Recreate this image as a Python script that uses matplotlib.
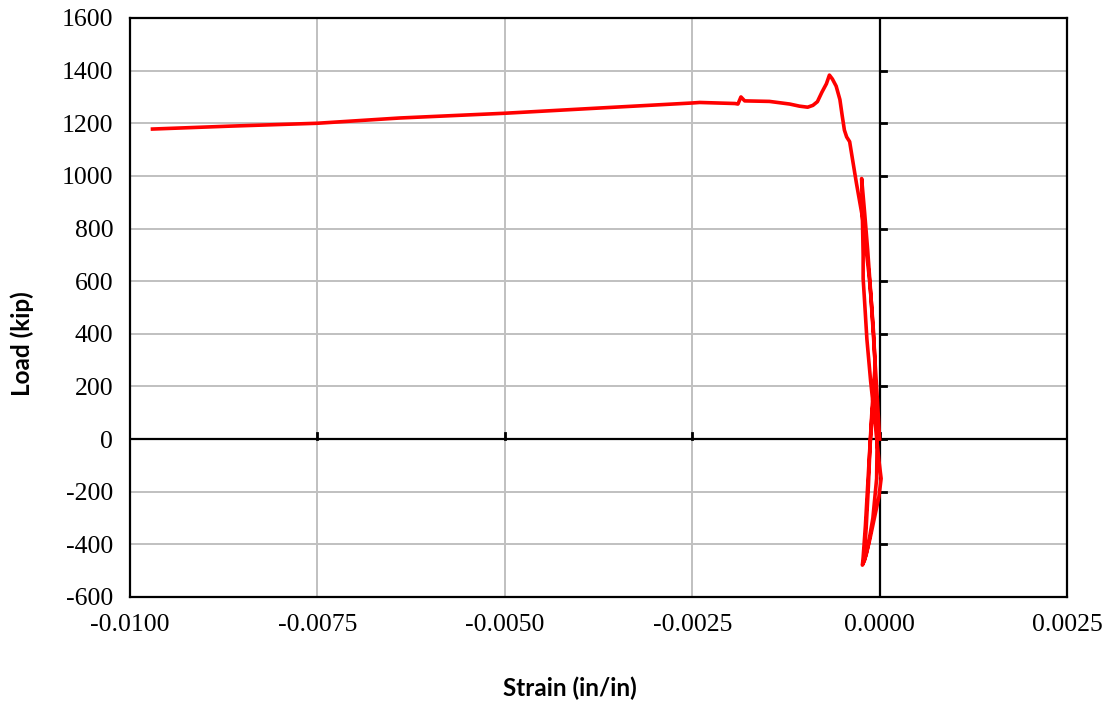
import numpy as np
import matplotlib.pyplot as plt

# Load-strain record (cyclic part near zero, then loading to peak, then post-peak)
strain = [
    0.0, -0.00003, -0.00008, -0.00012, -0.00016, -0.00020, -0.00024,
    -0.00022, -0.00022, -0.00020, -0.00017, -0.00012, -0.00006, -0.00001, 0.00002,
    -0.00001, -0.00007, -0.00013, -0.00018, -0.00022, -0.00021, -0.00018,
    -0.00015, -0.00013, -0.00010, -0.00006,
    -0.00003, -0.00004, -0.00009, -0.00015, -0.00020, -0.00023, -0.00022, -0.00019,
    -0.00016, -0.00013, -0.00010, -0.00006,
    -0.00008, -0.00011, -0.00014, -0.00018, -0.00023, -0.00031, -0.00036,
    -0.00040, -0.00044, -0.00047, -0.00050, -0.00053, -0.00058, -0.00063, -0.00067,
    -0.00071, -0.00077, -0.00083, -0.00089, -0.00096, -0.00107, -0.00120,
    -0.00147, -0.00180, -0.00185, -0.00189, -0.00193, -0.00240, -0.00250,
    -0.00373, -0.00500, -0.00640, -0.00750, -0.00867, -0.00970,
]
load = [
    0, 150, 380, 560, 720, 860, 990,
    700, 610, 520, 380, 220, 60, -80, -150,
    -220, -300, -380, -440, -470, -460, -340,
    -180, -40, 100, 220,
    80, -150, -300, -400, -460, -479, -450, -330,
    -180, -30, 120, 280,
    400, 520, 620, 720, 844, 973, 1060,
    1130, 1148, 1174, 1230, 1290, 1341, 1368, 1383,
    1350, 1318, 1282, 1268, 1261, 1265, 1273,
    1283, 1285, 1300, 1273, 1275, 1279, 1277,
    1258, 1238, 1220, 1200, 1189, 1178,
]

x_ticks = [-0.0100, -0.0075, -0.0050, -0.0025, 0.0000, 0.0025]
y_ticks = [-600, -400, -200, 0, 200, 400, 600, 800, 1000, 1200, 1400, 1600]

fig = plt.figure(figsize=(11.1, 7.05), dpi=100)
ax = fig.add_axes([0.1171, 0.1532, 0.8442, 0.8213])

ax.plot(strain, load, color='#ff0000', linewidth=2.6, solid_joinstyle='round', zorder=4)

ax.set_xlim(-0.0100, 0.0025)
ax.set_ylim(-600, 1600)
ax.set_xticks(x_ticks)
ax.set_yticks(y_ticks)
ax.set_xticklabels([f'{v:.4f}' for v in x_ticks], fontfamily='Liberation Serif', fontsize=18.5)
ax.set_yticklabels([str(v) for v in y_ticks], fontfamily='Liberation Serif', fontsize=18.5)
ax.tick_params(length=0, pad=12)

ax.grid(True, color='#c0c0c0', linewidth=1.4)
ax.set_axisbelow(True)
for s in ax.spines.values():
    s.set_linewidth(1.6)
    s.set_color('black')

# zero axes with their tick marks
ax.axhline(0, color='black', linewidth=1.6, zorder=3)
ax.axvline(0, color='black', linewidth=1.6, zorder=3)
dx = 0.0025 * 6 / 187.5
dy = 200 * 6 / 52.6
for xt in x_ticks[1:-1]:
    ax.plot([xt, xt], [0, dy], color='black', linewidth=2, zorder=3)
for yt in y_ticks[1:-1]:
    ax.plot([0, dx], [yt, yt], color='black', linewidth=2, zorder=3)

fig.text(0.5135, 0.024, 'Strain (in/in)', ha='center', va='center',
         fontfamily='Lato', fontweight='bold', fontsize=17.5)
fig.text(0.02, 0.513, 'Load (kip)', ha='center', va='center', rotation=90,
         fontfamily='Lato', fontweight='bold', fontsize=17.5)

fig.savefig('out.png', dpi=100)
